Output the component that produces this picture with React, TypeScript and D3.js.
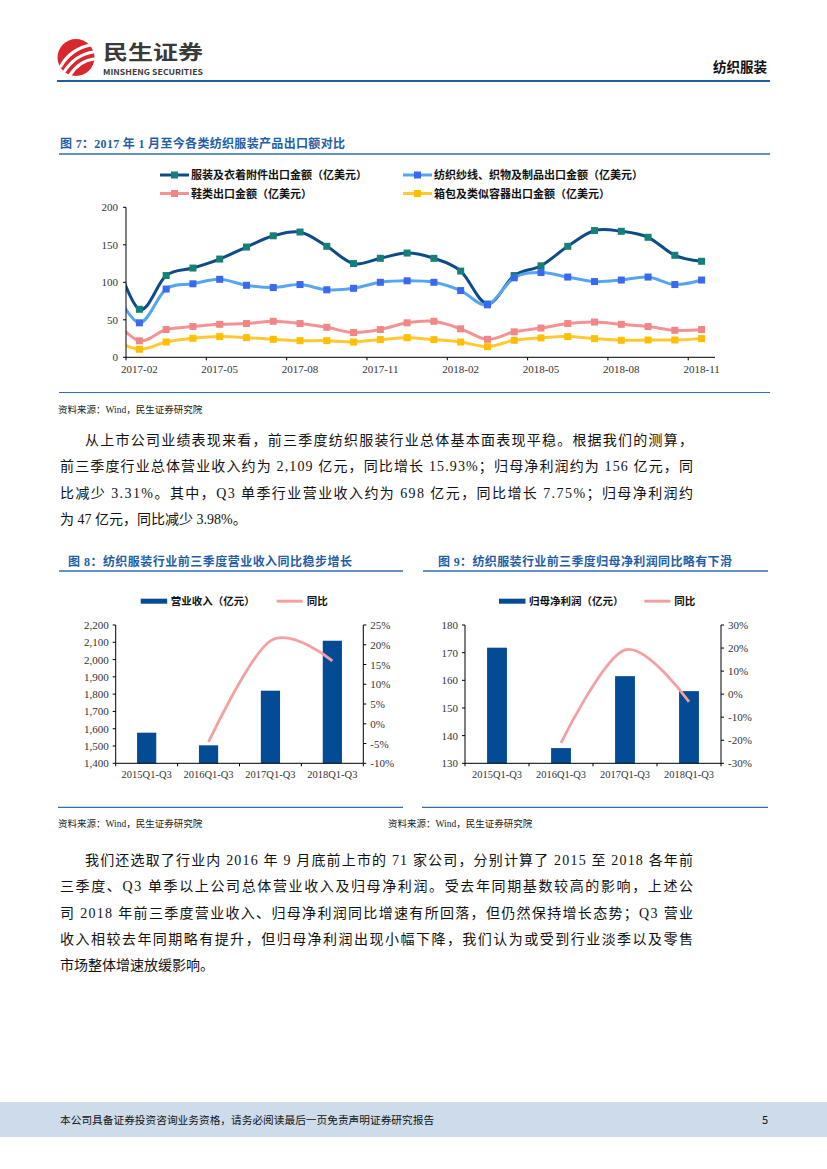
import React from 'react';
import * as d3 from 'd3';

// ---- figure 7: monthly export values (亿美元), 2017-01 .. 2018-11
const months = [
  '2017-01', '2017-02', '2017-03', '2017-04', '2017-05', '2017-06', '2017-07', '2017-08',
  '2017-09', '2017-10', '2017-11', '2017-12', '2018-01', '2018-02', '2018-03', '2018-04',
  '2018-05', '2018-06', '2018-07', '2018-08', '2018-09', '2018-10', '2018-11',
];
const garment = [142, 64, 109, 119, 131, 147, 162, 167, 148, 125, 132, 139, 132, 115, 71, 109, 122, 148, 169, 168, 160, 136, 128];
const yarn = [95, 46, 91, 98, 104, 96, 93, 97, 90, 92, 100, 102, 100, 89, 70, 106, 113, 107, 101, 103, 107, 97, 103];
const shoes = [52, 22, 37, 41, 44, 45, 48, 45, 40, 33, 37, 46, 48, 38, 24, 34, 39, 45, 47, 44, 41, 36, 37];
const bags = [24.5, 10.7, 20.4, 25.3, 27.6, 26.2, 24, 22.2, 22.2, 20.4, 23.6, 26.2, 23.6, 20.4, 14.2, 22.7, 25.8, 27.6, 24.9, 22.7, 23.1, 23.1, 24.9];
const monthTicks = ['2017-02', '2017-05', '2017-08', '2017-11', '2018-02', '2018-05', '2018-08', '2018-11'];
const exportTicks = [0, 50, 100, 150, 200];
const exportNames = [
  '服装及衣着附件出口金额（亿美元）',
  '纺织纱线、织物及制品出口金额（亿美元）',
  '鞋类出口金额（亿美元）',
  '箱包及类似容器出口金额（亿美元）',
];

// ---- figures 8 / 9
const periods = ['2015Q1-Q3', '2016Q1-Q3', '2017Q1-Q3', '2018Q1-Q3'];
const revenue = [1577, 1504, 1820, 2109];
const revenueYoY = [null, -4.6, 21.0, 15.93];
const profit = [171.8, 135.5, 161.5, 156.1];
const profitYoY = [null, -21.1, 19.2, -3.31];
const revenueTicks = [1400, 1500, 1600, 1700, 1800, 1900, 2000, 2100, 2200];
const revenueYoYTicks = [-10, -5, 0, 5, 10, 15, 20, 25];
const profitTicks = [130, 140, 150, 160, 170, 180];
const profitYoYTicks = [-30, -20, -10, 0, 10, 20, 30];

const para1 = [
  '从上市公司业绩表现来看，前三季度纺织服装行业总体基本面表现平稳。根据我们的测算，',
  '前三季度行业总体营业收入约为 2,109 亿元，同比增长 15.93%；归母净利润约为 156 亿元，同',
  '比减少 3.31%。其中，Q3 单季行业营业收入约为 698 亿元，同比增长 7.75%；归母净利润约',
  '为 47 亿元，同比减少 3.98%。',
];
const para2 = [
  '我们还选取了行业内 2016 年 9 月底前上市的 71 家公司，分别计算了 2015 至 2018 各年前',
  '三季度、Q3 单季以上公司总体营业收入及归母净利润。受去年同期基数较高的影响，上述公',
  '司 2018 年前三季度营业收入、归母净利润同比增速有所回落，但仍然保持增长态势；Q3 营业',
  '收入相较去年同期略有提升，但归母净利润出现小幅下降，我们认为或受到行业淡季以及零售',
  '市场整体增速放缓影响。',
];

const SERIF = '"Liberation Serif", "Times New Roman", "Noto Sans CJK SC", serif';
const SANS = '"Noto Sans CJK SC", "Noto Sans", sans-serif';
const TITLE_BLUE = '#1f5ea6';
const RULE_BLUE = '#2f6db2';
const BAR_BLUE = '#044b95';
const PINK = '#f4a0a0';

const source = '资料来源：Wind，民生证券研究院';

function ExportChart() {
  const left = 126, right = 715, top = 207.3, bottom = 357.3;
  const step = (right - left) / (months.length - 1);
  const x = d3.scaleBand<string>().domain(months).range([left - step, right]);
  const cx = (m: string) => (x(m) as number) + x.bandwidth() / 2;
  const y = d3.scaleLinear().domain([0, 200]).range([bottom, top]);

  const series = [
    { values: garment, line: '#0f4b89', marker: '#168078' },
    { values: yarn, line: '#57a5ee', marker: '#3a68ef' },
    { values: shoes, line: '#f39393', marker: '#f28686' },
    { values: bags, line: '#ffc935', marker: '#ffbf00' },
  ];

  const line = d3.line<number>()
    .x((_d, i) => cx(months[i]))
    .y(d => y(d))
    .curve(d3.curveCatmullRom.alpha(0));

  const legendPos = [
    { x: 160, y: 175 }, { x: 403, y: 175 }, { x: 160, y: 193.5 }, { x: 403, y: 193.5 },
  ];

  return (
    <g>
      <defs>
        <clipPath id="plot7">
          <rect x={left} y={top - 10} width={right - left} height={bottom - top + 12} />
        </clipPath>
      </defs>
      {legendPos.map((p, i) => (
        <g key={i}>
          <line x1={p.x} x2={p.x + 29} y1={p.y} y2={p.y} stroke={series[i].line} strokeWidth={3} />
          <rect x={p.x + 11} y={p.y - 3.5} width={7} height={7} fill={series[i].marker} />
          <text x={p.x + 31} y={p.y + 4} fontSize={11} fontWeight={700} fontFamily={SANS} fill="#111">
            {exportNames[i]}
          </text>
        </g>
      ))}
      <g clipPath="url(#plot7)">
        {series.map((s, i) => (
          <g key={i}>
            <path d={line(s.values) || ''} fill="none" stroke={s.line} strokeWidth={3} />
            {s.values.map((v, j) => j === 0 ? null : (
              <rect key={j} x={cx(months[j]) - 3.5} y={y(v) - 3.5} width={7} height={7} fill={s.marker} />
            ))}
          </g>
        ))}
      </g>
      <line x1={left} x2={left} y1={top} y2={bottom} stroke="#000" />
      <line x1={left} x2={right} y1={bottom} y2={bottom} stroke="#000" />
      {exportTicks.map(t => (
        <g key={t}>
          <line x1={left - 3} x2={left} y1={y(t)} y2={y(t)} stroke="#000" />
          <text x={left - 8} y={y(t) + 4} textAnchor="end" fontSize={11} fontFamily={SERIF} fill="#333">{t}</text>
        </g>
      ))}
      {monthTicks.map(m => (
        <g key={m}>
          <line x1={x(m)} x2={x(m)} y1={bottom} y2={bottom + 3} stroke="#000" />
          <text x={cx(m)} y={bottom + 16} textAnchor="middle" fontSize={11} fontFamily={SERIF} fill="#333">{m}</text>
        </g>
      ))}
    </g>
  );
}

interface ComboProps {
  left: number;
  right: number;
  values: number[];
  yoy: (number | null)[];
  ticks: number[];
  yoyTicks: number[];
  fmt: (v: number) => string;
  legendX: number[];
  barName: string;
}

function ComboChart({ left, right, values, yoy, ticks, yoyTicks, fmt, legendX, barName }: ComboProps) {
  const top = 625, bottom = 763.3;
  const x = d3.scaleBand<string>().domain(periods).range([left, right]);
  const cx = (p: string) => (x(p) as number) + x.bandwidth() / 2;
  const barW = x.bandwidth() * 0.31;
  const y = d3.scaleLinear().domain([ticks[0], ticks[ticks.length - 1]]).range([bottom, top]);
  const y2 = d3.scaleLinear().domain([yoyTicks[0], yoyTicks[yoyTicks.length - 1]]).range([bottom, top]);
  const line = d3.line<number | null>()
    .defined(d => d !== null)
    .x((_d, i) => cx(periods[i]))
    .y(d => y2(d as number))
    .curve(d3.curveCatmullRom.alpha(0));

  return (
    <g>
      <rect x={legendX[0]} y={598.7} width={26.5} height={5} fill={BAR_BLUE} />
      <text x={legendX[0] + 30} y={605} fontSize={10.5} fontWeight={700} fontFamily={SANS} fill="#111">{barName}</text>
      <line x1={legendX[1]} x2={legendX[1] + 26} y1={601.2} y2={601.2} stroke={PINK} strokeWidth={3} />
      <text x={legendX[1] + 30} y={605} fontSize={10.5} fontWeight={700} fontFamily={SANS} fill="#111">同比</text>

      {values.map((v, i) => (
        <rect key={i} x={cx(periods[i]) - barW / 2} y={y(v)} width={barW} height={bottom - y(v)} fill={BAR_BLUE} />
      ))}
      <path d={line(yoy) || ''} fill="none" stroke={PINK} strokeWidth={2.8} />

      <line x1={left} x2={left} y1={top} y2={bottom} stroke="#000" />
      <line x1={right} x2={right} y1={top} y2={bottom} stroke="#000" />
      <line x1={left} x2={right} y1={bottom} y2={bottom} stroke="#000" />
      {ticks.map(t => (
        <g key={t}>
          <line x1={left - 3} x2={left} y1={y(t)} y2={y(t)} stroke="#000" />
          <text x={left - 7} y={y(t) + 4} textAnchor="end" fontSize={11} fontFamily={SERIF} fill="#333">{fmt(t)}</text>
        </g>
      ))}
      {yoyTicks.map(t => (
        <g key={t}>
          <line x1={right} x2={right + 3} y1={y2(t)} y2={y2(t)} stroke="#000" />
          <text x={right + 7} y={y2(t) + 4} fontSize={11} fontFamily={SERIF} fill="#333">{`${t}%`}</text>
        </g>
      ))}
      {periods.map(p => (
        <g key={p}>
          <line x1={x(p)} x2={x(p)} y1={bottom} y2={bottom + 3} stroke="#000" />
          <text x={cx(p)} y={bottom + 15} textAnchor="middle" fontSize={10.5} fontFamily={SERIF} fill="#333">{p}</text>
        </g>
      ))}
      <line x1={right} x2={right} y1={bottom} y2={bottom + 3} stroke="#000" />
    </g>
  );
}

function Paragraph({ lines, y0 }: { lines: string[]; y0: number }) {
  return (
    <g>
      {lines.map((t, i) => {
        const x0 = i === 0 ? 85 : 60;
        const full = i < lines.length - 1;
        return (
          <text key={i} x={x0} y={y0 + i * 26.3} fontSize={14} fontFamily={SERIF} fill="#111"
            textLength={full ? 693 - x0 : undefined} lengthAdjust="spacing">
            {t}
          </text>
        );
      })}
    </g>
  );
}

export default function App() {
  return (
    <div style={{ position: 'absolute', left: 0, top: 0, background: '#fff' }}>
      <svg width={827} height={1169} viewBox="0 0 827 1169">
        <rect width={827} height={1169} fill="#fff" />
        {/* header */}
        <circle cx={76} cy={57.5} r={18.5} fill="#d7282e" />
        <path d="M61 66 C67 55 78 47 91 45" stroke="#fff" strokeWidth={3.2} fill="none" strokeLinecap="round" />
        <path d="M64 72 C71 61 81 54 93 52" stroke="#fff" strokeWidth={3.2} fill="none" strokeLinecap="round" />
        <path d="M70 75 C76 66 85 60 94 59" stroke="#fff" strokeWidth={3.2} fill="none" strokeLinecap="round" />
        <text x={103} y={60} fontSize={20} fontWeight={700} fontFamily={SANS} fill="#3a3a3a" textLength={100} lengthAdjust="spacingAndGlyphs">民生证券</text>
        <text x={103} y={74.5} fontSize={8} fontWeight={700} fontFamily={SANS} fill="#3a3a3a" textLength={100} lengthAdjust="spacingAndGlyphs">MINSHENG SECURITIES</text>
        <text x={767} y={72} textAnchor="end" fontSize={13.5} fontWeight={700} fontFamily={SANS} fill="#111">纺织服装</text>
        <line x1={57} x2={770} y1={81} y2={81} stroke="#1f5f9f" strokeWidth={2} />

        {/* figure 7 */}
        <text x={60} y={148} fontSize={12} fontWeight={700} fontFamily={SERIF} fill={TITLE_BLUE} textLength={285} lengthAdjust="spacing">图 7：2017 年 1 月至今各类纺织服装产品出口额对比</text>
        <line x1={59} x2={770} y1={154} y2={154} stroke={RULE_BLUE} strokeWidth={1.5} />
        <ExportChart />
        <line x1={59} x2={770} y1={392.5} y2={392.5} stroke={RULE_BLUE} strokeWidth={1.2} />
        <text x={58} y={413} fontSize={9.5} fontFamily={SERIF} fill="#222">{source}</text>

        <Paragraph lines={para1} y0={445} />

        {/* figures 8 & 9 */}
        <text x={68} y={566} fontSize={12} fontWeight={700} fontFamily={SERIF} fill={TITLE_BLUE} textLength={284} lengthAdjust="spacing">图 8：纺织服装行业前三季度营业收入同比稳步增长</text>
        <line x1={59} x2={403} y1={571} y2={571} stroke={RULE_BLUE} strokeWidth={1.5} />
        <text x={438} y={566} fontSize={12} fontWeight={700} fontFamily={SERIF} fill={TITLE_BLUE} textLength={294} lengthAdjust="spacing">图 9：纺织服装行业前三季度归母净利润同比略有下滑</text>
        <line x1={423} x2={768} y1={571} y2={571} stroke={RULE_BLUE} strokeWidth={1.5} />

        <ComboChart left={115.7} right={363.3} values={revenue} yoy={revenueYoY} ticks={revenueTicks}
          yoyTicks={revenueYoYTicks} fmt={d3.format(',')} legendX={[140.7, 276.7]} barName="营业收入（亿元）" />
        <ComboChart left={465} right={721} values={profit} yoy={profitYoY} ticks={profitTicks}
          yoyTicks={profitYoYTicks} fmt={d3.format('d')} legendX={[499, 644.3]} barName="归母净利润（亿元）" />

        <line x1={58} x2={403} y1={807.3} y2={807.3} stroke={RULE_BLUE} strokeWidth={1.2} />
        <line x1={422} x2={768} y1={807.3} y2={807.3} stroke={RULE_BLUE} strokeWidth={1.2} />
        <text x={58} y={827} fontSize={9.5} fontFamily={SERIF} fill="#222">{source}</text>
        <text x={388} y={827} fontSize={9.5} fontFamily={SERIF} fill="#222">{source}</text>

        <Paragraph lines={para2} y0={865} />

        {/* footer */}
        <rect x={0} y={1102} width={827} height={35} fill="#cedbea" />
        <text x={60} y={1124} fontSize={10.7} fontFamily={SANS} fill="#111">本公司具备证券投资咨询业务资格，请务必阅读最后一页免责声明证券研究报告</text>
        <text x={768} y={1124} textAnchor="end" fontSize={11} fontFamily={SANS} fill="#111">5</text>
      </svg>
    </div>
  );
}
